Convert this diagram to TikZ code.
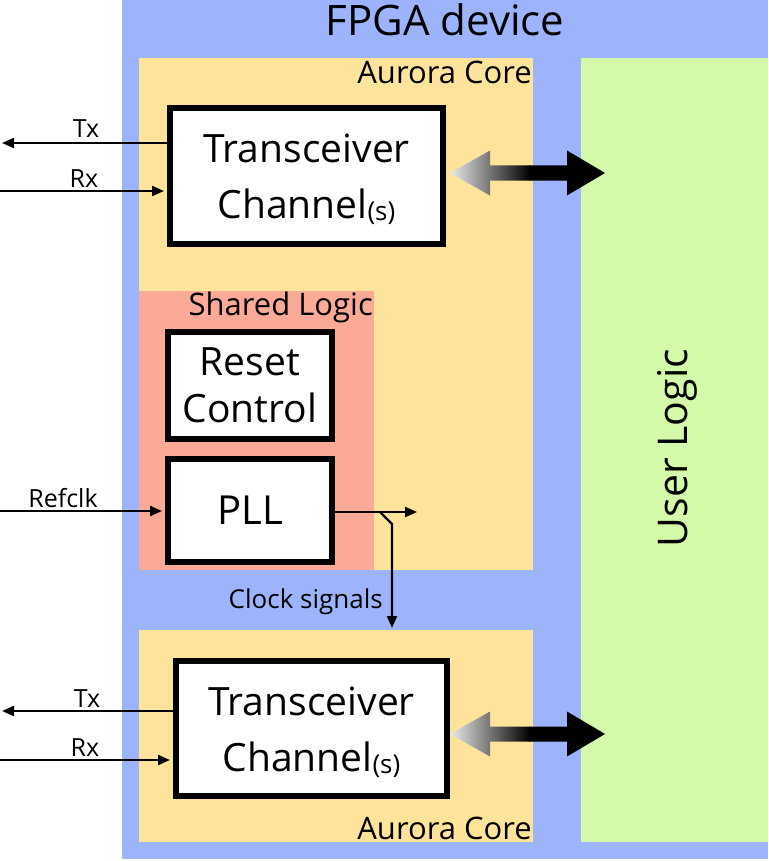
\documentclass[tikz,border=0pt]{standalone}
\usepackage{fontspec}
\setmainfont{Open Sans}
\usetikzlibrary{arrows.meta,calc}
\definecolor{fpgablue}{RGB}{157,180,252}
\definecolor{coreorange}{RGB}{254,228,155}
\definecolor{sharedred}{RGB}{250,170,150}
\definecolor{usergreen}{RGB}{212,249,168}
\newcommand{\busarrow}[1]{%
  \begin{scope}[shift={(0,#1)}]
    \clip (450,0) -- (490,-22.5) -- (490,-7.5) -- (567,-7.5) -- (567,-22.5) -- (605,0)
      -- (567,22.5) -- (567,7.5) -- (490,7.5) -- (490,22.5) -- cycle;
    \shade[left color=black!8, right color=black] (450,-23) rectangle (530,23);
    \fill[black] (529,-23) rectangle (606,23);
  \end{scope}}
\begin{document}
\begin{tikzpicture}[x=1pt,y=-1pt,
  blk/.style={draw=black, line width=6pt, fill=white, inner sep=0pt, align=center,
    font=\fontsize{39}{56}\selectfont},
  sig/.style={line width=2.2pt, -{Triangle[length=12pt,width=10pt]}},
  lbl/.style={font=\fontsize{25}{28}\selectfont, anchor=base, inner sep=0pt},
  area/.style={font=\fontsize{31}{36}\selectfont, anchor=base east, inner sep=0pt}]
\useasboundingbox (0,0) rectangle (768,861);
% regions
\fill[fpgablue] (122,0) rectangle (768,859);
\fill[coreorange] (139,58) rectangle (533,570);
\fill[sharedred] (139,291) rectangle (374,570);
\fill[coreorange] (139,630) rectangle (533,842);
\fill[usergreen] (581,58) rectangle (768,842);
% region titles
\node[font=\fontsize{42}{48}\selectfont, anchor=base, inner sep=0pt] (fpga) at (445,36) {FPGA device};
\node[area] (core1) at (532,84) {Aurora Core};
\node[area] (shared) at (373,315) {Shared Logic};
\node[area] (core2) at (532,839) {Aurora Core};
\node[font=\fontsize{41}{48}\selectfont, rotate=90, anchor=base, inner sep=0pt] (ul) at (687,448) {User Logic};
% blocks
\node[blk, minimum width=273pt, minimum height=136pt] (tb) at (306.5,176)
  {\rule{0pt}{36pt}Transceiver\\Channel\raisebox{-2pt}{\fontsize{26}{28}\selectfont(s)}};
\node[blk, minimum width=271pt, minimum height=135pt] (bb) at (311.5,728.5)
  {\rule{0pt}{36pt}Transceiver\\Channel\raisebox{-2pt}{\fontsize{26}{28}\selectfont(s)}};
\node[blk, font=\fontsize{39}{47}\selectfont, minimum width=164pt, minimum height=107pt] (rst) at (250,385.5)
  {Reset\\Control};
\node[blk, font=\fontsize{40}{48}\selectfont, minimum width=164pt, minimum height=103pt] (pll) at (250,510.5) {PLL};
% bus arrows
\busarrow{173}
\busarrow{734}
% top transceiver signals
\coordinate (txa) at (2,143);
\coordinate (rxa) at (0,191);
\draw[sig] (tb.west |- txa) -- (txa);
\draw[sig, shorten >=3pt] (rxa) -- (tb.west |- rxa);
\node[lbl] (txl1) at (86,138) {Tx};
\node[lbl] (rxl1) at (84,187) {Rx};
% bottom transceiver signals
\coordinate (txb) at (2,711);
\coordinate (rxb) at (0,760);
\draw[sig] (bb.west |- txb) -- (txb);
\draw[sig, shorten >=3pt] (rxb) -- (bb.west |- rxb);
\node[lbl] (txl2) at (87,707) {Tx};
\node[lbl] (rxl2) at (85,756) {Rx};
% refclk
\coordinate (rfa) at (0,511);
\draw[sig, shorten >=3pt] (rfa) -- (pll.west |- rfa);
\node[lbl] (rfl) at (63,507) {Refclk};
% clock output
\coordinate (pllo) at (417,512);
\coordinate (br) at (380,512);
\coordinate (brk) at (392,524);
\coordinate (clk) at (392,628);
\draw[sig] (pll.east |- pllo) -- (pllo);
\draw[sig] (br) -- (brk) -- (clk);
\node[font=\fontsize{26}{30}\selectfont, anchor=base east, inner sep=0pt] (clkl) at (383,608) {Clock signals};
\end{tikzpicture}
\end{document}
